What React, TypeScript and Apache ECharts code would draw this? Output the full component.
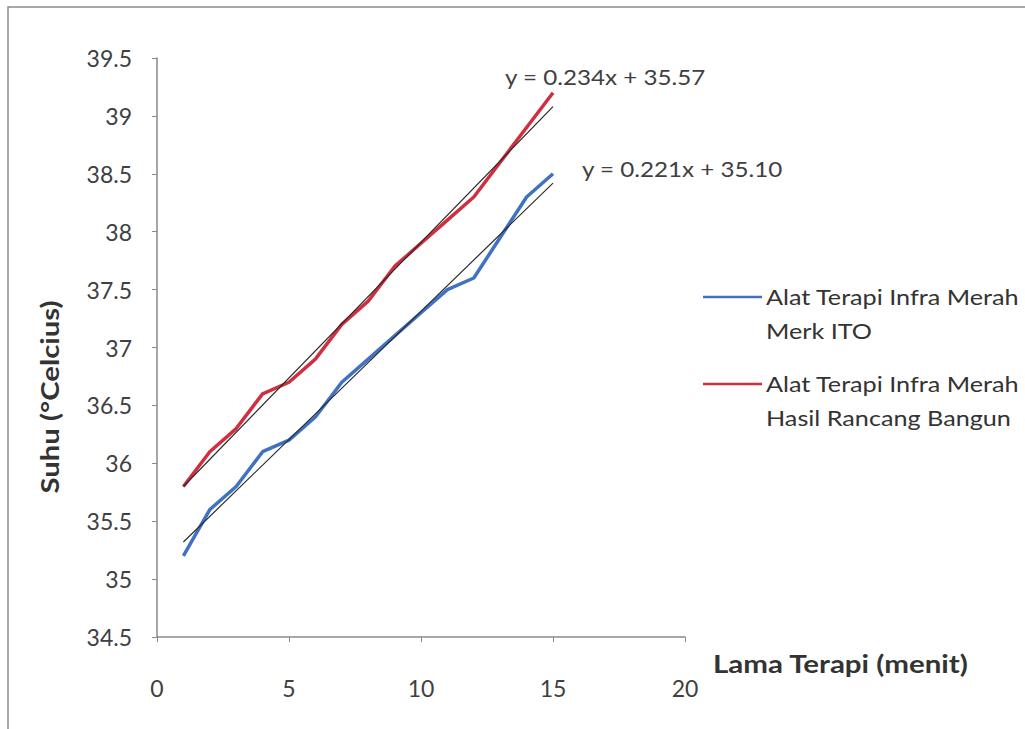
import React, { useEffect, useRef } from "react";
import * as echarts from "echarts";

const minutes = [1, 2, 3, 4, 5, 6, 7, 8, 9, 10, 11, 12, 13, 14, 15];
const itoTemps = [35.2, 35.6, 35.8, 36.1, 36.2, 36.4, 36.7, 36.9, 37.1, 37.3, 37.5, 37.6, 37.95, 38.3, 38.5];
const designTemps = [35.8, 36.1, 36.3, 36.6, 36.7, 36.9, 37.2, 37.4, 37.7, 37.9, 38.1, 38.3, 38.6, 38.9, 39.2];
const trendX = [1, 15];
const itoTrend = [35.32, 38.42];
const designTrend = [35.8, 39.08];
const seriesNames = ["Alat Terapi Infra Merah\nMerk ITO", "Alat Terapi Infra Merah\nHasil Rancang Bangun"];
const equations = ["y = 0.234x + 35.57", "y = 0.221x + 35.10"];
const xTicks = [0, 20, 5];
const yTicks = [34.5, 39.5, 0.5];

const BLUE = "#3f72c2";
const RED = "#cf2f3f";
const FONT = "Lato, 'Open Sans', sans-serif";

export default function App() {
  const ref = useRef<HTMLDivElement>(null);
  useEffect(() => {
    if (!ref.current) return;
    const chart = echarts.init(ref.current, null, { renderer: "svg" });
    const pair = (xs: number[], ys: number[]) => xs.map((x, i) => [x, ys[i]]);
    chart.setOption({
      animation: false,
      backgroundColor: "#ffffff",
      grid: { left: 157, right: 340, top: 58, bottom: 92, containLabel: false },
      xAxis: {
        type: "value",
        min: xTicks[0],
        max: xTicks[1],
        interval: xTicks[2],
        splitLine: { show: false },
        axisLine: { show: true, lineStyle: { color: "#8a8a8a", width: 1.5 } },
        axisTick: { show: true, length: 5, lineStyle: { color: "#8a8a8a" } },
        axisLabel: { margin: 39, fontSize: 23, color: "#404040", fontFamily: FONT },
      },
      yAxis: {
        type: "value",
        min: yTicks[0],
        max: yTicks[1],
        interval: yTicks[2],
        splitLine: { show: false },
        axisLine: { show: true, lineStyle: { color: "#8a8a8a", width: 1.5 } },
        axisTick: { show: true, length: 5, lineStyle: { color: "#8a8a8a" } },
        axisLabel: { margin: 25, fontSize: 23, color: "#404040", fontFamily: FONT },
      },
      series: [
        {
          name: seriesNames[0],
          type: "line",
          data: pair(minutes, itoTemps),
          showSymbol: false,
          lineStyle: { color: BLUE, width: 3.5 },
          z: 2,
        },
        {
          name: seriesNames[1],
          type: "line",
          data: pair(minutes, designTemps),
          showSymbol: false,
          lineStyle: { color: RED, width: 3.5 },
          z: 2,
        },
        {
          name: "Linear ITO",
          type: "line",
          data: pair(trendX, itoTrend),
          showSymbol: false,
          lineStyle: { color: "#2b2b2b", width: 1.2 },
          z: 3,
        },
        {
          name: "Linear Rancang",
          type: "line",
          data: pair(trendX, designTrend),
          showSymbol: false,
          lineStyle: { color: "#2b2b2b", width: 1.2 },
          z: 3,
        },
      ],
      graphic: [
        {
          type: "rect",
          shape: { x: 8, y: 7, width: 1030, height: 740 },
          style: { fill: "none", stroke: "#8a8a8a", lineWidth: 1.5 },
          z: 10,
        },
        {
          type: "text",
          x: 50,
          y: 397,
          rotation: Math.PI / 2,
          scaleX: 1.22,
          style: {
            text: "Suhu (°Celcius)",
            font: `bold 24px ${FONT}`,
            fill: "#333333",
            align: "center",
            verticalAlign: "middle",
          },
        },
        {
          type: "text",
          x: 713,
          y: 663,
          scaleX: 1.18,
          style: {
            text: "Lama Terapi (menit)",
            font: `bold 25px ${FONT}`,
            fill: "#333333",
            align: "left",
            verticalAlign: "middle",
          },
        },
        {
          type: "text",
          x: 505,
          y: 76,
          scaleX: 1.1,
          style: { text: equations[0], font: `22px ${FONT}`, fill: "#404040", verticalAlign: "middle" },
        },
        {
          type: "text",
          x: 582,
          y: 168,
          scaleX: 1.1,
          style: { text: equations[1], font: `22px ${FONT}`, fill: "#404040", verticalAlign: "middle" },
        },
        {
          type: "line",
          shape: { x1: 703, y1: 297, x2: 762, y2: 297 },
          style: { stroke: BLUE, lineWidth: 2.5 },
        },
        {
          type: "text",
          x: 766,
          y: 280,
          scaleX: 1.2,
          style: {
            text: seriesNames[0],
            font: `21px ${FONT}`,
            lineHeight: 34,
            fill: "#333333",
            verticalAlign: "top",
          },
        },
        {
          type: "line",
          shape: { x1: 703, y1: 384, x2: 762, y2: 384 },
          style: { stroke: RED, lineWidth: 2.5 },
        },
        {
          type: "text",
          x: 766,
          y: 367,
          scaleX: 1.2,
          style: {
            text: seriesNames[1],
            font: `21px ${FONT}`,
            lineHeight: 34,
            fill: "#333333",
            verticalAlign: "top",
          },
        },
      ],
    });
    return () => chart.dispose();
  }, []);
  return (
    <div
      ref={ref}
      style={{ position: "absolute", left: 0, top: 0, width: 1025, height: 729 }}
    />
  );
}
